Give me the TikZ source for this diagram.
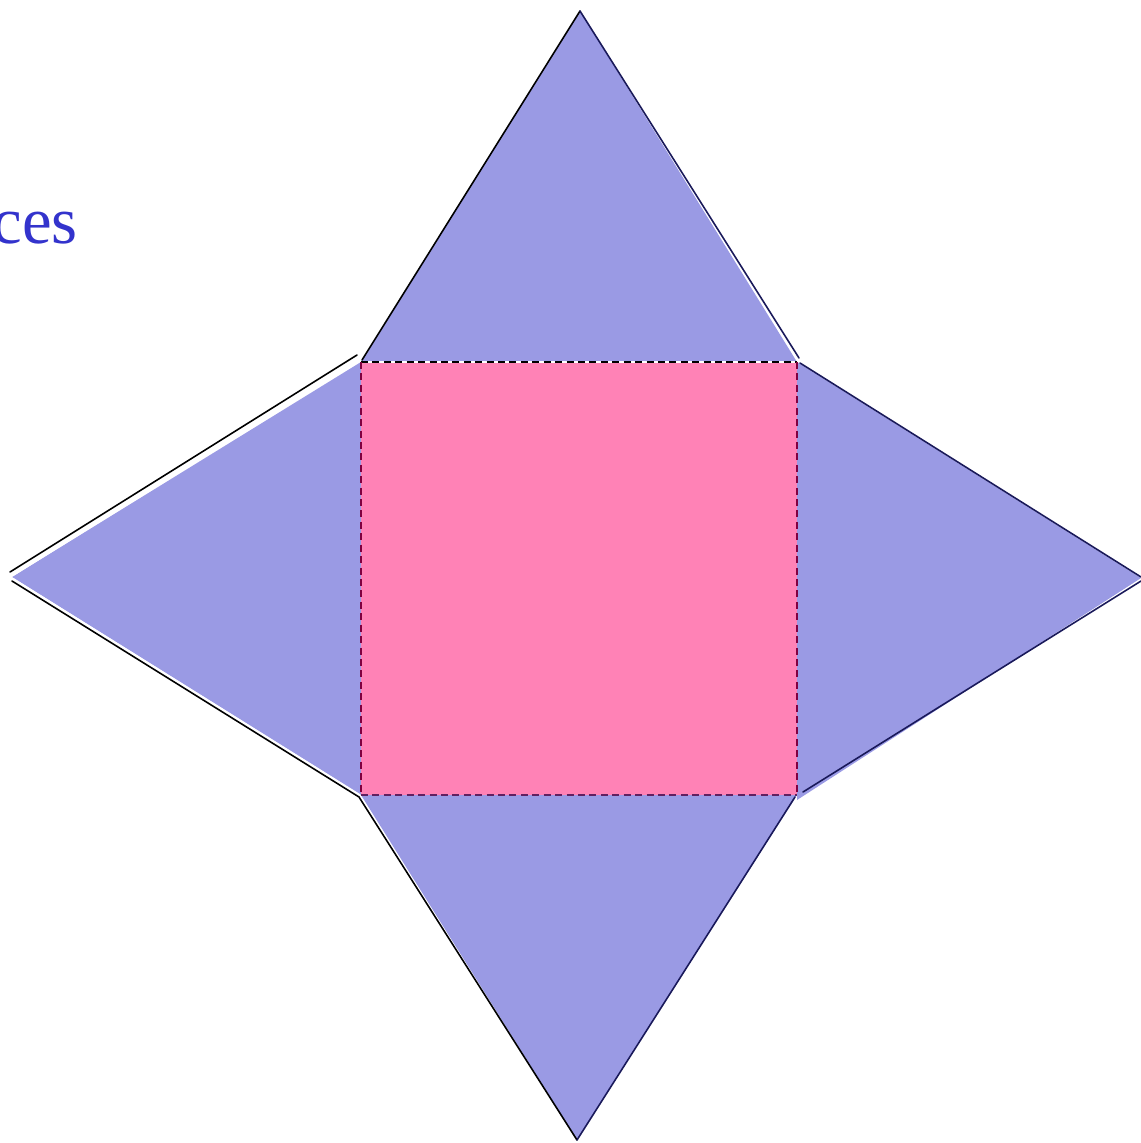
\documentclass[tikz,border=0pt]{standalone}
\usepackage{fontspec}
\setmainfont{Liberation Serif}
\begin{document}
\begin{tikzpicture}[x=0.02cm,y=-0.02cm,
  facefill/.style={fill=facecol,draw=none},
  edgeline/.style={line width=0.9pt,line cap=round},
  dashline/.style={line width=0.9pt,dash pattern=on 4pt off 2.5pt}]
\definecolor{facecol}{RGB}{154,154,228}
\definecolor{basecol}{RGB}{255,130,182}
\definecolor{navy}{RGB}{25,25,90}
\definecolor{darkred}{RGB}{128,0,64}
\definecolor{purp}{RGB}{96,32,96}
\definecolor{txtblue}{RGB}{51,51,204}
\useasboundingbox (0,0) rectangle (1141,1143);
% corners
\coordinate (A) at (361,362);
\coordinate (B) at (797,362);
\coordinate (C) at (797,795);
\coordinate (D) at (361,795);
\coordinate (T) at (580,11);
\coordinate (L) at (12,577);
\coordinate (R) at (1141,578);
\coordinate (S) at (577,1140);
% faces
\fill[facecol] (A) -- (T) -- (B) -- cycle;
\fill[facecol] (A) -- (L) -- (D) -- cycle;
\fill[facecol] (B) -- (R) -- (797,800) -- (C) -- cycle;
\fill[facecol] (D) -- (S) -- (C) -- cycle;
\fill[basecol] (A) rectangle (C);
% white seams
\draw[white,line width=0.9pt] (12,576) -- (359,360);
\draw[white,line width=0.9pt] (12,578) -- (360,795);
\draw[white,line width=0.9pt] (361,362) -- (797,362);
% edges
\draw[edgeline,black] (362,360) -- (T);
\draw[edgeline,navy] (T) -- (799,358);
\draw[edgeline,black] (10,572) -- (357,355);
\draw[edgeline,black] (12,581) -- (359,797) -- (S);
\draw[edgeline,navy] (S) -- (795,797);
\draw[edgeline,navy] (800,363) -- (1141,577);
\draw[edgeline,navy] (1141,581) -- (803,792);
% dashed base
\draw[dashline,black] (A) -- (B);
\draw[dashline,darkred] (A) -- (D);
\draw[dashline,purp] (D) -- (C);
\draw[dashline,darkred] (B) -- (C);
% text
\node[anchor=base east,inner sep=0pt,text=txtblue,font=\fontsize{38}{40}\selectfont] (lbl) at (78,243) {ces};
\end{tikzpicture}
\end{document}
